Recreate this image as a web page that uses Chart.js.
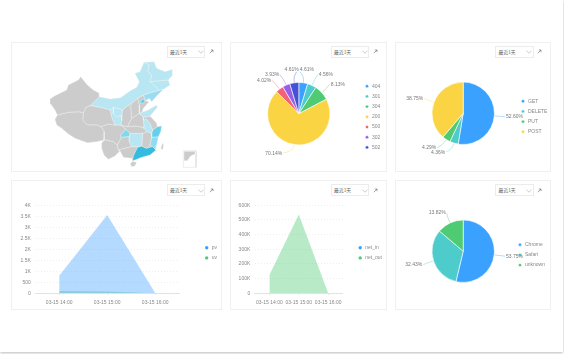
<!DOCTYPE html>
<html><head><meta charset="utf-8">
<script src="https://cdn.jsdelivr.net/npm/chart.js@4"></script>
<style>
html,body{margin:0;padding:0;background:#fff;width:564px;height:354px;overflow:hidden}
body{font-family:"Liberation Sans","Noto Sans CJK SC",sans-serif}
#page{position:absolute;left:0;top:0;width:563px;height:352px;background:#fff;box-shadow:0 1px 3px rgba(0,0,0,.28)}
.panel{position:absolute;box-sizing:border-box;border:1px solid #f0f0f0;background:#fff}
canvas{position:absolute;display:block}
.sel{position:absolute;box-sizing:border-box;width:38.5px;height:12px;border:1px solid #ececec;background:#fff;color:#666;font:4.8px/10px "Noto Sans CJK SC",sans-serif;padding-left:2.6px;white-space:nowrap}
.sel svg{position:absolute;left:30px;top:3.6px;display:block}
.ext{position:absolute;width:5px;height:5px}
.ext svg{display:block}
</style></head><body>
<div id="page"></div>
<script>
// ---- common
const rangeLabel = "最近1天";
const C = {blue:"#3AA1FF",teal:"#4ECBCB",green:"#4ECB73",yellow:"#FBD444",red:"#F2637B",purple:"#975FE5",indigo:"#4353D3"};

// ---- pie: response codes
const codeLabels = ["404","301","304","200","500","302","502"];
const codeValues = [4.61,4.56,8.13,70.14,4.02,3.93,4.61];
// ---- pie: methods
const methodLabels = ["GET","DELETE","PUT","POST"];
const methodValues = [52.60,4.36,4.29,38.75];
// ---- pie: browsers
const browserLabels = ["Chrome","Safari","unknown"];
const browserValues = [53.75,32.43,13.82];
// ---- areas
const timeLabels = ["03-15 14:00","03-15 15:00","03-15 16:00"];
const pvValues = [800,3560,10];
const uvValues = [100,80,5];
const netInValues = [300,900,10];
const netOutValues = [125000,538000,100];

// ---- map regions, values on a grid
const mainland=[[150,207],[165,197],[200,180],[205,165],[235,150],[242,140],[250,150],[262,165],[280,180],[298,190],[298,200],[330,207],[362,203],[390,183],[410,172],[418,155],[405,130],[420,125],[432,97],[462,95],[470,115],[495,125],[518,118],[518,135],[505,150],[510,165],[490,178],[470,198],[455,215],[448,205],[437,212],[447,215],[430,235],[426,247],[445,240],[470,225],[472,232],[450,258],[470,280],[472,290],[485,288],[482,305],[475,320],[470,345],[468,360],[450,375],[425,382],[405,390],[398,392],[395,385],[370,382],[360,362],[345,378],[325,388],[312,375],[305,355],[305,340],[312,330],[290,335],[262,338],[245,332],[225,325],[205,312],[185,295],[170,285],[165,268],[172,255],[165,240],[152,222]];
const xinjiang=[[150,207],[165,197],[200,180],[205,165],[235,150],[242,140],[250,150],[262,165],[280,180],[298,190],[298,200],[272,225],[258,232],[250,248],[235,245],[205,247],[172,255],[165,240],[152,222]];
const tibet=[[172,255],[205,247],[235,245],[250,248],[248,270],[262,285],[290,285],[303,290],[313,305],[312,330],[290,335],[262,338],[245,332],[225,325],[205,312],[185,295],[170,285],[165,268]];
const qinghai=[[258,232],[272,227],[305,233],[330,240],[335,262],[345,285],[325,282],[303,290],[290,285],[262,285],[248,270],[250,248]];
const innerMongolia=[[298,200],[330,207],[362,203],[390,183],[410,172],[418,155],[405,130],[420,125],[432,97],[447,105],[443,125],[455,135],[450,155],[478,180],[445,190],[430,195],[412,205],[395,220],[385,225],[368,240],[355,235],[340,232],[330,240],[305,233],[272,227]];
const heilongjiang=[[432,97],[462,95],[470,115],[495,125],[518,118],[518,135],[505,150],[480,152],[450,155],[455,135],[443,125],[447,105]];
const jilin=[[450,155],[505,150],[510,165],[490,178],[478,180]];
const liaoning=[[445,190],[478,180],[490,178],[470,198],[455,215],[448,205],[437,212],[430,195]];
const gansu=[[330,240],[340,232],[340,250],[350,262],[365,255],[365,272],[362,285],[345,285],[335,262]];
const ningxia=[[340,232],[355,235],[368,240],[365,255],[350,262],[340,250]];
const shaanxi=[[368,240],[385,225],[392,235],[395,265],[382,290],[362,285],[365,272],[365,255]];
const shanxi=[[395,220],[412,205],[418,225],[418,250],[395,265],[392,235]];
const hebei=[[412,205],[430,195],[437,212],[447,215],[430,235],[426,247],[418,250],[418,225]];
const beijing=[[420,218],[428,207],[434,212],[430,220]];
const shandong=[[426,247],[445,240],[470,225],[472,232],[450,258],[430,262],[418,250]];
const henan=[[395,265],[418,250],[430,262],[430,270],[432,292],[405,288],[382,290]];
const jiangsu=[[430,262],[450,258],[470,280],[472,290],[458,300],[450,280],[440,268],[430,270]];
const anhui=[[430,270],[440,268],[450,280],[458,300],[455,310],[442,305],[432,295]];
const hubei=[[362,285],[382,290],[405,288],[432,292],[432,295],[442,305],[428,310],[390,310],[378,298]];
const hunan=[[390,310],[428,310],[425,348],[415,350],[395,350],[388,335],[388,320]];
const jiangxi=[[428,310],[442,305],[455,310],[455,322],[450,345],[440,355],[425,348]];
const zhejiang=[[458,300],[472,290],[485,288],[482,305],[475,320],[455,322],[455,310]];
const fujian=[[450,345],[455,322],[475,320],[470,345],[468,360],[458,350]];
const guangdong=[[398,392],[400,378],[413,352],[425,348],[440,355],[458,350],[468,360],[450,375],[425,382],[405,390]];
const hainan=[[390,402],[398,394],[410,397],[405,408],[395,410]];
const taiwan=[[482,355],[488,338],[491,345],[488,360]];
const guangxi=[[355,360],[395,350],[415,350],[400,378],[395,385],[370,382],[360,362]];
const guizhou=[[352,345],[365,322],[388,320],[388,335],[395,350],[355,360]];
const chongqing=[[360,318],[378,298],[390,310],[388,320],[365,322]];
const sichuan=[[303,290],[325,282],[345,285],[362,285],[378,298],[360,318],[365,322],[352,345],[340,335],[320,330],[312,330],[313,305]];
const yunnan=[[312,330],[320,330],[340,335],[352,345],[355,360],[360,362],[345,378],[325,388],[312,375],[305,355],[305,340]];
const insetLand=[[552,364],[586,364],[586,372],[572,378],[562,392],[553,392]];
const insetFrame=[[550,362],[588,362],[588,412],[550,412]];

const GREY="#CCCCCC",PALE="#B8E6F2",MID="#8EDCF0",STRONG="#66D0EA",DEEP="#33BCE0";
const regions=[
 [xinjiang,GREY],[tibet,GREY],[qinghai,GREY],[innerMongolia,PALE],[heilongjiang,PALE],[jilin,PALE],[liaoning,"#9ADDF2"],
 [gansu,PALE],[ningxia,PALE],[shaanxi,GREY],[shanxi,GREY],[beijing,"#55CCEA"],[hebei,GREY],[shandong,PALE],[henan,GREY],
 [jiangsu,GREY],[anhui,PALE],[hubei,GREY],[hunan,PALE],[jiangxi,GREY],[zhejiang,STRONG],[fujian,MID],[guangdong,DEEP],
 [hainan,GREY],[taiwan,GREY],[guangxi,GREY],[guizhou,GREY],[chongqing,"#7FD8EE"],[sichuan,GREY],[yunnan,GREY],[mainland,GREY]
];

// ---- layout helpers
function panel(x,y,w,h){const d=document.createElement('div');d.className='panel';d.style.cssText=`left:${x}px;top:${y}px;width:${w}px;height:${h}px`;document.body.appendChild(d);}
function makeCanvas(x,y,w,h){const c=document.createElement('canvas');c.width=w;c.height=h;c.style.cssText=`left:${x}px;top:${y}px;width:${w}px;height:${h}px`;document.body.appendChild(c);return c;}
function control(x,y){
 const s=document.createElement('div');s.className='sel';s.style.left=x+'px';s.style.top=y+'px';s.textContent=rangeLabel;
 s.insertAdjacentHTML('beforeend','<svg width="6" height="4" viewBox="0 0 6 4"><path d="M.5 .8 3 3.2 5.5 .8" fill="none" stroke="#aaa" stroke-width=".6"/></svg>');
 document.body.appendChild(s);
 const e=document.createElement('div');e.className='ext';e.style.left=(x+42)+'px';e.style.top=(y+3.6)+'px';
 e.innerHTML='<svg width="5" height="5" viewBox="0 0 5 5"><path d="M.8 4.2 4 1M1.8 1H4V3.2" fill="none" stroke="#666" stroke-width=".6"/></svg>';
 document.body.appendChild(e);
}

const legendMove={id:'legendMove',afterLayout(chart,args,o){
 const l=chart.legend; if(!l||!o.at) return;
 const w=l.width,h=l.height; l.left=o.at[0];l.top=o.at[1];l.right=l.left+Math.max(w,80);l.bottom=l.top+Math.max(h,90);
 l.width=l.right-l.left;l.height=l.bottom-l.top;
}};
const pieLabels={id:'pieLabels',afterDatasetsDraw(chart,args,o){
 if(!o.ends) return;
 const ctx=chart.ctx,arcs=chart.getDatasetMeta(0).data,vals=chart.data.datasets[0].data,cols=chart.data.datasets[0].backgroundColor;
 ctx.save();ctx.font='5px "Liberation Sans",sans-serif';ctx.fillStyle='#777';ctx.textBaseline='middle';
 arcs.forEach((a,i)=>{
  const ang=(a.startAngle+a.endAngle)/2,r=a.outerRadius,sx=a.x+Math.cos(ang)*(r+.5),sy=a.y+Math.sin(ang)*(r+.5);
  const [ex,ey,tx,ty,al]=o.ends[i];
  const X=a.x+ex,Y=a.y+ey;
  ctx.globalAlpha=.55;ctx.strokeStyle=cols[i];ctx.lineWidth=.7;ctx.beginPath();ctx.moveTo(sx,sy);
  ctx.quadraticCurveTo(a.x+Math.cos(ang)*(r+7),a.y+Math.sin(ang)*(r+7),X,Y);ctx.stroke();
  ctx.globalAlpha=1;ctx.textAlign=al;ctx.fillText(vals[i].toFixed(2)+'%',a.x+tx,a.y+ty);
 });
 ctx.restore();
}};
const legendOpts=()=>({display:true,position:'chartArea',align:'start',labels:{usePointStyle:true,pointStyle:'circle',boxWidth:5,boxHeight:2.4,padding:5.2,color:'#888',font:{size:5,family:'"Liberation Sans",sans-serif',lineHeight:1.2}}});

function pie(px,py,pw,ph,cx,cy,labels,values,colors,legendAt,ends){
 const c=makeCanvas(px,py,pw,ph);
 const dx=cx-px,dy=cy-py;
 const padding={left:Math.max(0,2*dx-pw),right:Math.max(0,pw-2*dx),top:Math.max(0,2*dy-ph),bottom:Math.max(0,ph-2*dy)};
 new Chart(c,{type:'pie',data:{labels,datasets:[{data:values,backgroundColor:colors,borderColor:'#fff',borderWidth:.6}]},
  options:{responsive:false,animation:false,radius:31.2,layout:{padding},
   plugins:{legend:legendOpts(),legendMove:{at:[legendAt[0]-px,legendAt[1]-py]},pieLabels:{ends},tooltip:{enabled:false}}},
  plugins:[legendMove,pieLabels]});
}
function area(px,py,pw,ph,box,labels,series,legendAt,maxV,step,fmt){
 const c=makeCanvas(px,py,pw,ph);
 new Chart(c,{type:'line',data:{labels,datasets:series.map(s=>({label:s.label,data:s.data,borderWidth:0,pointRadius:0,fill:'origin',tension:0,
   borderColor:s.color,backgroundColor:s.fill,pointStyle:'circle',pointBackgroundColor:s.color}))},
  options:{responsive:false,animation:false,
   layout:{padding:{left:0,top:box.t-py,right:px+pw-box.r,bottom:0}},
   scales:{
    x:{offset:true,grid:{display:true,drawOnChartArea:false,drawTicks:true,tickLength:1.5,tickColor:'#ddd'},border:{color:'#ddd',width:.8},
       ticks:{padding:4.5,color:'#888',maxRotation:0,autoSkip:false,font:{size:5,family:'"Liberation Sans",sans-serif'}},
       afterFit(s){s.height=py+ph-box.b;}},
    y:{min:0,max:maxV,grid:{color:'#e2e2e2',lineWidth:.6,drawTicks:false},border:{display:false,dash:[1,2]},
       ticks:{stepSize:step,padding:4.4,color:'#888',font:{size:5,family:'"Liberation Sans",sans-serif'},callback:fmt},
       afterFit(s){s.width=box.l-px;}}
   },
   plugins:{legend:Object.assign(legendOpts(),{labels:Object.assign(legendOpts().labels,{generateLabels(ch){return series.map((s,i)=>({text:s.label,fillStyle:s.color,strokeStyle:s.color,lineWidth:0,pointStyle:'circle',datasetIndex:i,fontColor:'#888'}));}})}),
    legendMove:{at:[legendAt[0]-px,legendAt[1]-py]},tooltip:{enabled:false}}},
  plugins:[legendMove]});
}
const kFmt=v=>v>=1000?(v/1000)+'K':String(v);

// ---- panels
const L=[10.5,230,395],W=[211,157,156];
const T=[41.5,180],H=130;
L.forEach((x,i)=>T.forEach(y=>panel(x,y,W[i],H)));

// ---- map
const mapCanvas=makeCanvas(45,55,160,115);
new Chart(mapCanvas,{type:'scatter',data:{datasets:
  [[insetLand,GREY,'#fff'],[insetFrame,'#fff','#cfcfcf']].concat(regions.map(r=>[r[0],r[1],'#fff'])).map(([pts,col,line])=>({
    data:pts.concat([pts[0]]).map(p=>({x:p[0],y:p[1]})),showLine:true,fill:'shape',backgroundColor:col,borderColor:line,borderWidth:.35,pointRadius:0,tension:0}))},
  options:{responsive:false,animation:false,layout:{padding:0},
   scales:{x:{display:false,type:'linear',min:135,max:615},y:{display:false,type:'linear',min:75,max:420,reverse:true}},
   plugins:{legend:{display:false},tooltip:{enabled:false}}}});

// ---- pies
pie(230,41.5,157,130,298.8,113.2,codeLabels,codeValues,[C.blue,C.teal,C.green,C.yellow,C.red,C.purple,C.indigo],[359.3,78],
 [[1,-42,1,-44.5,'left'],[19,-39,20,-39,'left'],[31,-29.5,32,-29.5,'left'],[-16,39.5,-16.5,39.5,'right'],[-27,-33.5,-27.5,-33.5,'right'],[-19,-39,-19.5,-39,'right'],[-2,-42,0,-44.5,'right']]);
pie(395,41.5,156,130,463.2,112.8,methodLabels,methodValues,[C.blue,C.teal,C.green,C.yellow],[515.3,93],
 [[42,3.5,42.8,3.5,'left'],[-17,38.5,-18,39.5,'right'],[-26,34.5,-27,34.5,'right'],[-39,-15,-40,-15,'right']]);
pie(395,180,156,130,463.2,251.2,browserLabels,browserValues,[C.blue,C.teal,C.green],[512.3,237],
 [[42,5,42.8,5,'left'],[-40,13.5,-41,13.5,'right'],[-16.5,-38,-17.5,-39,'right']]);

// ---- areas
area(10.5,180,211,130,{l:34.7,r:178.7,t:205.3,b:293.3},timeLabels,
 [{label:'pv',data:pvValues,color:C.blue,fill:'rgba(58,161,255,.38)'},{label:'uv',data:uvValues,color:C.green,fill:'rgba(78,203,115,.4)'}],[198.5,240],4000,500,kFmt);
area(230,180,157,130,{l:254.7,r:342.9,t:205.3,b:293.3},timeLabels,
 [{label:'net_in',data:netInValues,color:C.blue,fill:'rgba(58,161,255,.38)'},{label:'net_out',data:netOutValues,color:C.green,fill:'rgba(78,203,115,.4)'}],[352.5,240],600000,100000,kFmt);

// ---- controls
[[166.5,45.7],[330.5,45.7],[495,45.7],[166.5,184.3],[330.5,184.3],[495,184.3]].forEach(p=>control(p[0],p[1]));
</script>
</body></html>
